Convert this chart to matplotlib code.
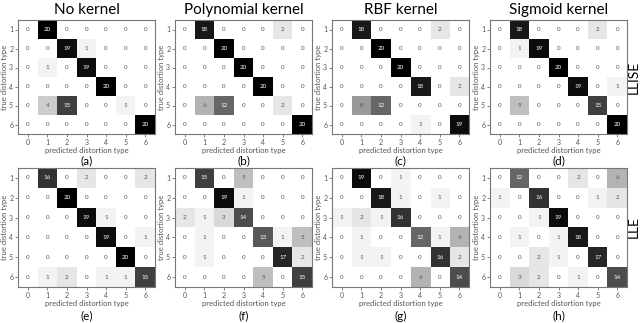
import numpy as np
import matplotlib.pyplot as plt

# confusion matrices: rows = true distortion type 1..6, cols = predicted 0..6
llise_none = [[0, 20, 0, 0, 0, 0, 0],
              [0, 0, 19, 1, 0, 0, 0],
              [0, 1, 0, 19, 0, 0, 0],
              [0, 0, 0, 0, 20, 0, 0],
              [0, 4, 15, 0, 0, 1, 0],
              [0, 0, 0, 0, 0, 0, 20]]
llise_poly = [[0, 18, 0, 0, 0, 2, 0],
              [0, 0, 20, 0, 0, 0, 0],
              [0, 0, 0, 20, 0, 0, 0],
              [0, 0, 0, 0, 20, 0, 0],
              [0, 6, 12, 0, 0, 2, 0],
              [0, 0, 0, 0, 0, 0, 20]]
llise_rbf = [[0, 18, 0, 0, 0, 2, 0],
             [0, 0, 20, 0, 0, 0, 0],
             [0, 0, 0, 20, 0, 0, 0],
             [0, 0, 0, 0, 18, 0, 2],
             [0, 8, 12, 0, 0, 0, 0],
             [0, 0, 0, 0, 1, 0, 19]]
llise_sig = [[0, 18, 0, 0, 0, 2, 0],
             [0, 1, 19, 0, 0, 0, 0],
             [0, 0, 0, 20, 0, 0, 0],
             [0, 0, 0, 0, 19, 0, 1],
             [0, 5, 0, 0, 0, 15, 0],
             [0, 0, 0, 0, 0, 0, 20]]
lle_none = [[0, 16, 0, 2, 0, 0, 2],
            [0, 0, 20, 0, 0, 0, 0],
            [0, 0, 0, 19, 1, 0, 0],
            [0, 0, 0, 0, 19, 0, 1],
            [0, 0, 0, 0, 0, 20, 0],
            [0, 1, 2, 0, 1, 1, 15]]
lle_poly = [[0, 15, 0, 5, 0, 0, 0],
            [0, 0, 19, 1, 0, 0, 0],
            [2, 1, 3, 14, 0, 0, 0],
            [0, 1, 0, 0, 13, 1, 5],
            [0, 1, 0, 0, 0, 17, 2],
            [0, 0, 0, 0, 5, 0, 15]]
lle_rbf = [[0, 19, 0, 1, 0, 0, 0],
           [0, 0, 18, 1, 0, 1, 0],
           [1, 2, 1, 16, 0, 0, 0],
           [0, 1, 0, 0, 12, 1, 6],
           [0, 1, 1, 0, 0, 16, 2],
           [0, 0, 0, 0, 6, 0, 14]]
lle_sig = [[0, 12, 0, 0, 2, 0, 6],
           [1, 0, 16, 0, 0, 1, 2],
           [0, 0, 1, 19, 0, 0, 0],
           [0, 1, 0, 1, 18, 0, 0],
           [0, 0, 2, 1, 0, 17, 0],
           [0, 3, 2, 0, 1, 0, 14]]

kernels = ['No kernel', 'Polynomial kernel', 'RBF kernel', 'Sigmoid kernel']
methods = ['LLISE', 'LLE']
panel_letters = ['(a)', '(b)', '(c)', '(d)', '(e)', '(f)', '(g)', '(h)']
pred_labels = [0, 1, 2, 3, 4, 5, 6]
true_labels = [1, 2, 3, 4, 5, 6]

matrices = [[llise_none, llise_poly, llise_rbf, llise_sig],
            [lle_none, lle_poly, lle_rbf, lle_sig]]

plt.rcParams['font.family'] = ['Lato', 'DejaVu Sans']

W, H = 640, 323
fig = plt.figure(figsize=(W / 100, H / 100), dpi=100)

# pixel boxes of the panels (left, top, width, height)
lefts = [18, 175, 332, 490]
tops = [20, 168]
heights = [114, 119]
width = 137
letter_gap = [27, 29]

for r in range(2):
    for c in range(4):
        M = np.array(matrices[r][c])
        x0, y0, h = lefts[c], tops[r], heights[r]
        ax = fig.add_axes([x0 / W, 1 - (y0 + h) / H, width / W, h / H])
        ax.imshow(M, cmap='gray_r', vmin=0, vmax=20, aspect='auto')

        # numbers inside the cells
        for i in range(M.shape[0]):
            for j in range(M.shape[1]):
                v = M[i, j]
                col = 'white' if v >= 10 else '#555555'
                ax.text(j, i, str(v), ha='center', va='center',
                        fontsize=4.5, color=col)

        ax.set_xticks(range(len(pred_labels)))
        ax.set_xticklabels(pred_labels)
        ax.set_yticks(range(len(true_labels)))
        ax.set_yticklabels(true_labels)
        ax.tick_params(labelsize=5, length=2, width=0.5, pad=1.5,
                       colors='#555555')
        ax.set_xlabel('predicted distortion type', fontsize=5.5,
                      color='#555555', labelpad=1)
        ax.set_ylabel('true distortion type', fontsize=5.5,
                      color='#555555', labelpad=1)
        for s in ax.spines.values():
            s.set_color('#777777')
            s.set_linewidth(0.8)

        if r == 0:
            ax.set_title(kernels[c], fontsize=11, pad=4)

        # panel letter under the axis
        fig.text((x0 + width / 2) / W, 1 - (y0 + h + letter_gap[r]) / H,
                 panel_letters[r * 4 + c], ha='center', va='center',
                 fontsize=8.5)

# method labels on the right side
for r in range(2):
    fig.text(634 / W, 1 - (tops[r] + heights[r] / 2) / H, methods[r],
             rotation=90, ha='center', va='center', fontsize=10)

plt.savefig('out.png', dpi=100)
